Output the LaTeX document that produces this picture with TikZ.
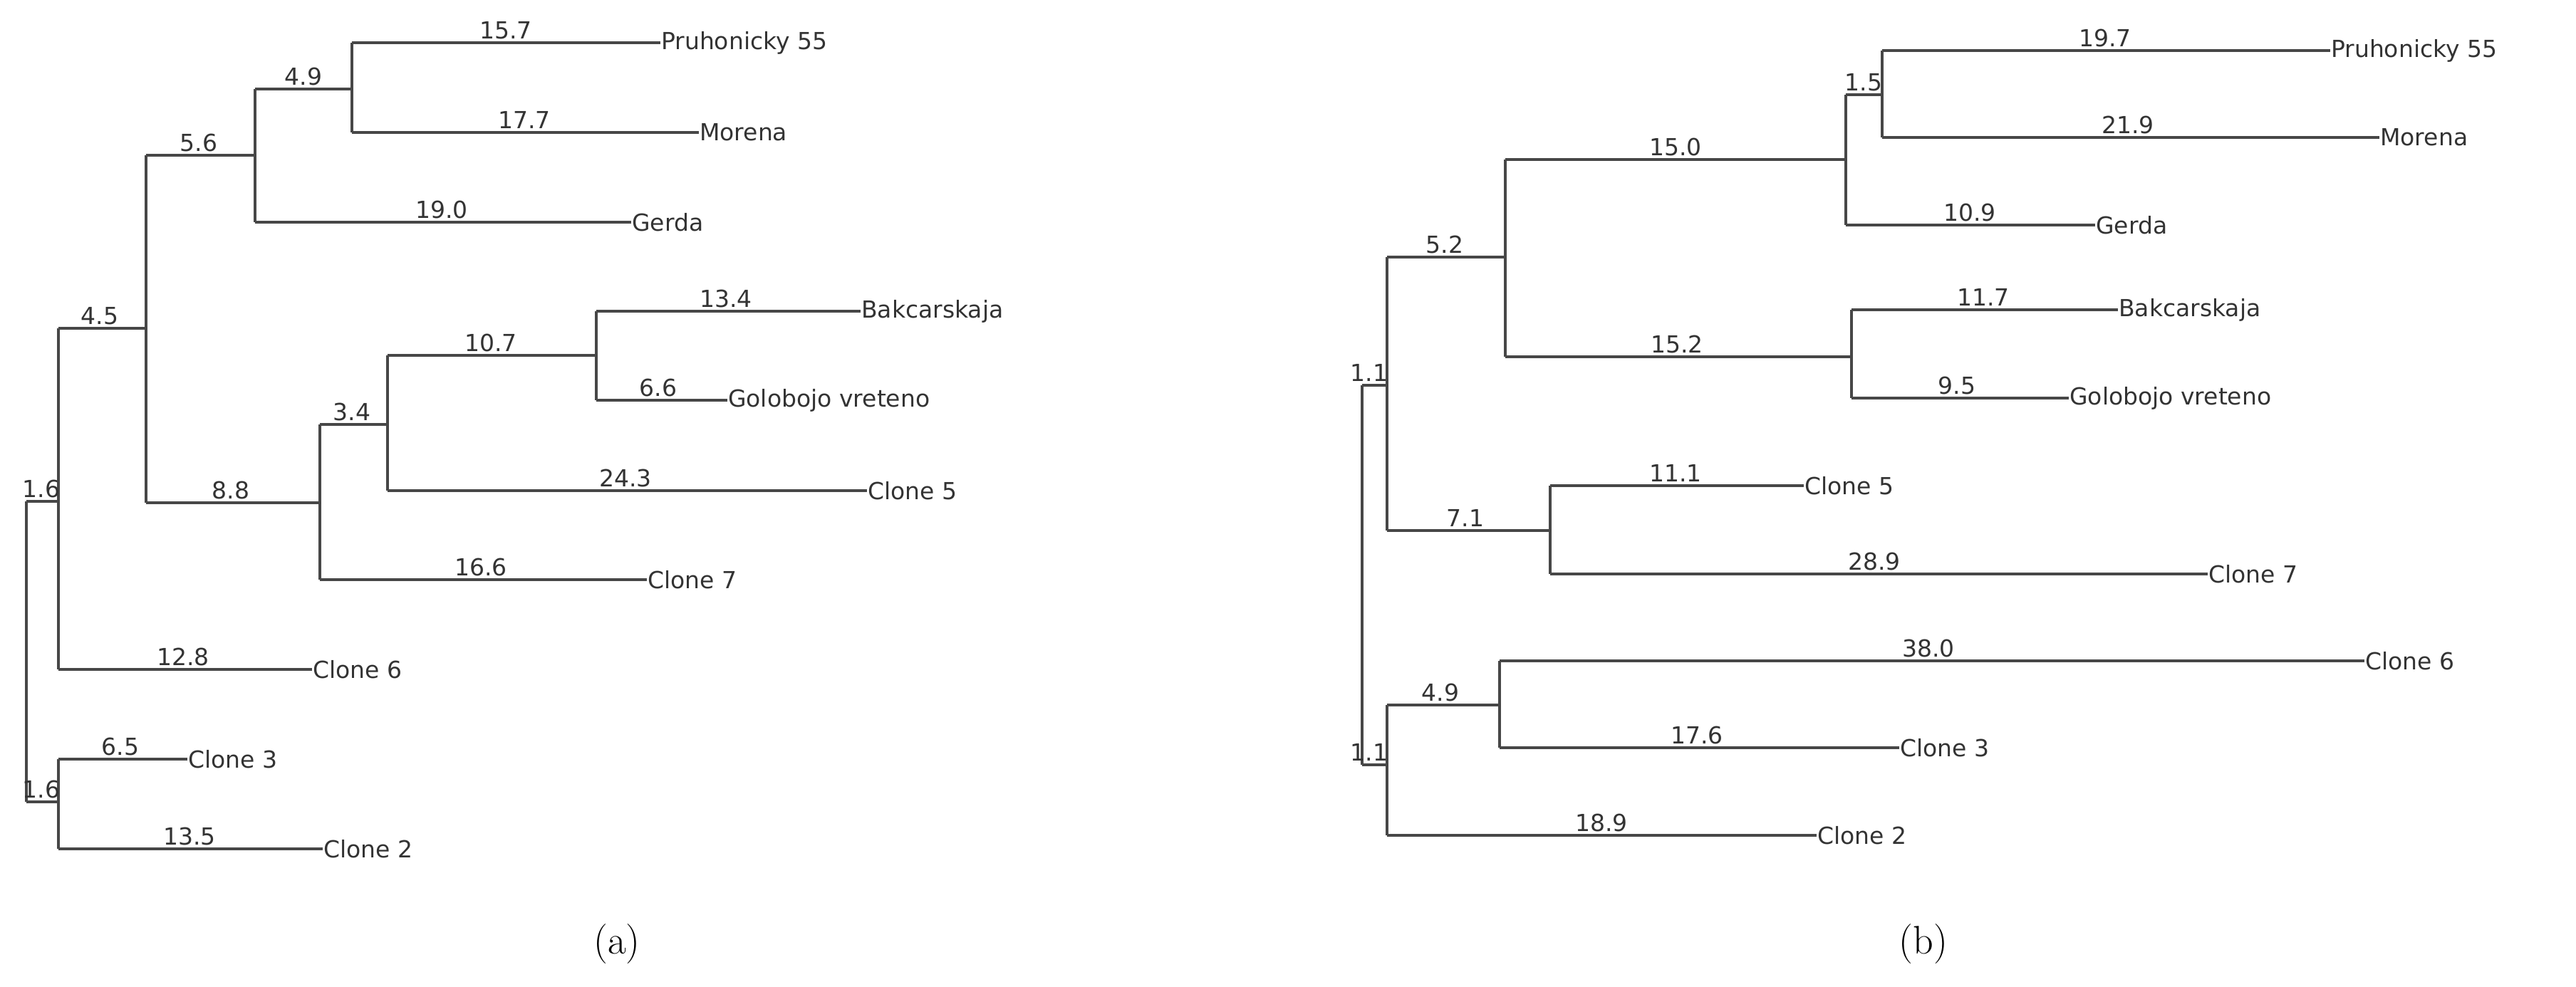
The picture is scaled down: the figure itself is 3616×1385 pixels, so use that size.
\documentclass[tikz,border=0pt]{standalone}
\usepackage{fontspec}
\newfontfamily\treefont{DejaVu Sans}
\begin{document}
\begin{tikzpicture}[x=1pt,y=-1pt,
  br/.style={draw=black!72,line width=3.5pt},
  num/.style={anchor=base,inner sep=0pt,font=\treefont\fontsize{33}{36}\selectfont,text=black!80},
  leaf/.style={anchor=west,inner sep=1pt,font=\treefont\fontsize{33}{36}\selectfont,text=black!80},
  captxt/.style={font=\fontsize{56}{64}\selectfont}]
\useasboundingbox (0,0) rectangle (3616,1385);
% ---------- (a) ----------
\coordinate (aR1) at (37,704); \coordinate (aR2) at (37,1126);
\coordinate (aA) at (82,704); \coordinate (aB) at (82,1126);
\coordinate (aC) at (205,461); \coordinate (aC1) at (358,218);
\coordinate (aD) at (494,125); \coordinate (aC2) at (449,706);
\coordinate (aE) at (544,596); \coordinate (aF) at (837,499);
\node[leaf] (aP) at (927,60) {Pruhonicky 55};
\node[leaf] (aM) at (981,186) {Morena};
\node[leaf] (aG) at (886,312) {Gerda};
\node[leaf] (aBk) at (1208,437) {Bakcarskaja};
\node[leaf] (aGo) at (1021,562) {Golobojo vreteno};
\node[leaf] (a5) at (1217,689) {Clone 5};
\node[leaf] (a7) at (908,814) {Clone 7};
\node[leaf] (a6) at (438,940) {Clone 6};
\node[leaf] (a3) at (263,1066) {Clone 3};
\node[leaf] (a2) at (453,1192) {Clone 2};
\draw[br] (aR1) -- (aR2);
\draw[br] (aR1) -- (aA); \draw[br] (aR2) -- (aB);
\draw[br] (aA |- aC) -- (aA |- a6);
\draw[br] (aB |- a3) -- (aB |- a2);
\draw[br] (aA |- aC) -- (aC |- aC);
\draw[br] (aC) ++(0,0) -- (aC |- aC1); \draw[br] (aC) -- (aC |- aC2);
\draw[br] (aC |- aC1) -- (aC1);
\draw[br] (aC1) -- (aC1 |- aD); \draw[br] (aC1) -- (aC1 |- aG);
\draw[br] (aC1 |- aD) -- (aD);
\draw[br] (aD |- aP) -- (aD |- aM);
\draw[br] (aD |- aP) -- (aP.west); \draw[br] (aD |- aM) -- (aM.west);
\draw[br] (aC1 |- aG) -- (aG.west);
\draw[br] (aC |- aC2) -- (aC2);
\draw[br] (aC2) -- (aC2 |- aE); \draw[br] (aC2) -- (aC2 |- a7);
\draw[br] (aC2 |- aE) -- (aE);
\draw[br] (aE) -- (aE |- aF); \draw[br] (aE) -- (aE |- a5);
\draw[br] (aE |- aF) -- (aF);
\draw[br] (aF) -- (aF |- aBk); \draw[br] (aF) -- (aF |- aGo);
\draw[br] (aF |- aBk) -- (aBk.west); \draw[br] (aF |- aGo) -- (aGo.west);
\draw[br] (aE |- a5) -- (a5.west);
\draw[br] (aC2 |- a7) -- (a7.west);
\draw[br] (aA |- a6) -- (a6.west);
\draw[br] (aB |- a3) -- (a3.west); \draw[br] (aB |- a2) -- (a2.west);
\node[num] at (58,698) {1.6}; \node[num] at (58,1120) {1.6};
\node[num] at (140,455) {4.5}; \node[num] at (279,212) {5.6};
\node[num] at (426,119) {4.9}; \node[num] at (710,54) {15.7};
\node[num] at (736,180) {17.7}; \node[num] at (620,306) {19.0};
\node[num] at (324,700) {8.8}; \node[num] at (494,590) {3.4};
\node[num] at (689,493) {10.7}; \node[num] at (1019,431) {13.4};
\node[num] at (924,556) {6.6}; \node[num] at (878,683) {24.3};
\node[num] at (675,808) {16.6}; \node[num] at (257,934) {12.8};
\node[num] at (169,1060) {6.5}; \node[num] at (266,1186) {13.5};
\node[captxt] (capa) at (866,1326) {(a)};
% ---------- (b) ----------
\coordinate (bR1) at (1912,541); \coordinate (bR2) at (1912,1074);
\coordinate (bG) at (1947,541); \coordinate (bH) at (1947,1074);
\coordinate (bI) at (2113,361); \coordinate (bJ) at (2591,224);
\coordinate (bK) at (2642,133); \coordinate (bL) at (2599,501);
\coordinate (bM) at (2176,745); \coordinate (bN) at (2105,990);
\node[leaf] (bP) at (3271,71) {Pruhonicky 55};
\node[leaf] (bMo) at (3340,193) {Morena};
\node[leaf] (bGe) at (2941,316) {Gerda};
\node[leaf] (bBk) at (2973,435) {Bakcarskaja};
\node[leaf] (bGo) at (2904,559) {Golobojo vreteno};
\node[leaf] (b5) at (2532,682) {Clone 5};
\node[leaf] (b7) at (3099,806) {Clone 7};
\node[leaf] (b6) at (3319,928) {Clone 6};
\node[leaf] (b3) at (2666,1050) {Clone 3};
\node[leaf] (b2) at (2550,1173) {Clone 2};
\draw[br] (bR1) -- (bR2);
\draw[br] (bR1) -- (bG); \draw[br] (bR2) -- (bH);
\draw[br] (bG |- bI) -- (bG |- bM);
\draw[br] (bH |- bN) -- (bH |- b2);
\draw[br] (bG |- bI) -- (bI);
\draw[br] (bI) -- (bI |- bJ); \draw[br] (bI) -- (bI |- bL);
\draw[br] (bI |- bJ) -- (bJ);
\draw[br] (bJ) -- (bJ |- bK); \draw[br] (bJ) -- (bJ |- bGe);
\draw[br] (bJ |- bK) -- (bK);
\draw[br] (bK) -- (bK |- bP); \draw[br] (bK) -- (bK |- bMo);
\draw[br] (bK |- bP) -- (bP.west); \draw[br] (bK |- bMo) -- (bMo.west);
\draw[br] (bJ |- bGe) -- (bGe.west);
\draw[br] (bI |- bL) -- (bL);
\draw[br] (bL) -- (bL |- bBk); \draw[br] (bL) -- (bL |- bGo);
\draw[br] (bL |- bBk) -- (bBk.west); \draw[br] (bL |- bGo) -- (bGo.west);
\draw[br] (bG |- bM) -- (bM);
\draw[br] (bM) -- (bM |- b5); \draw[br] (bM) -- (bM |- b7);
\draw[br] (bM |- b5) -- (b5.west); \draw[br] (bM |- b7) -- (b7.west);
\draw[br] (bH |- bN) -- (bN);
\draw[br] (bN) -- (bN |- b6); \draw[br] (bN) -- (bN |- b3);
\draw[br] (bN |- b6) -- (b6.west); \draw[br] (bN |- b3) -- (b3.west);
\draw[br] (bH |- b2) -- (b2.west);
\node[num] at (1922,535) {1.1}; \node[num] at (1922,1068) {1.1};
\node[num] at (2028,355) {5.2}; \node[num] at (2352,218) {15.0};
\node[num] at (2616,127) {1.5}; \node[num] at (2955,65) {19.7};
\node[num] at (2987,187) {21.9}; \node[num] at (2765,310) {10.9};
\node[num] at (2354,495) {15.2}; \node[num] at (2784,429) {11.7};
\node[num] at (2747,553) {9.5}; \node[num] at (2057,739) {7.1};
\node[num] at (2352,676) {11.1}; \node[num] at (2631,800) {28.9};
\node[num] at (2022,984) {4.9}; \node[num] at (2707,922) {38.0};
\node[num] at (2382,1044) {17.6}; \node[num] at (2248,1167) {18.9};
\node[captxt] (capb) at (2700,1326) {(b)};
\end{tikzpicture}
\end{document}
